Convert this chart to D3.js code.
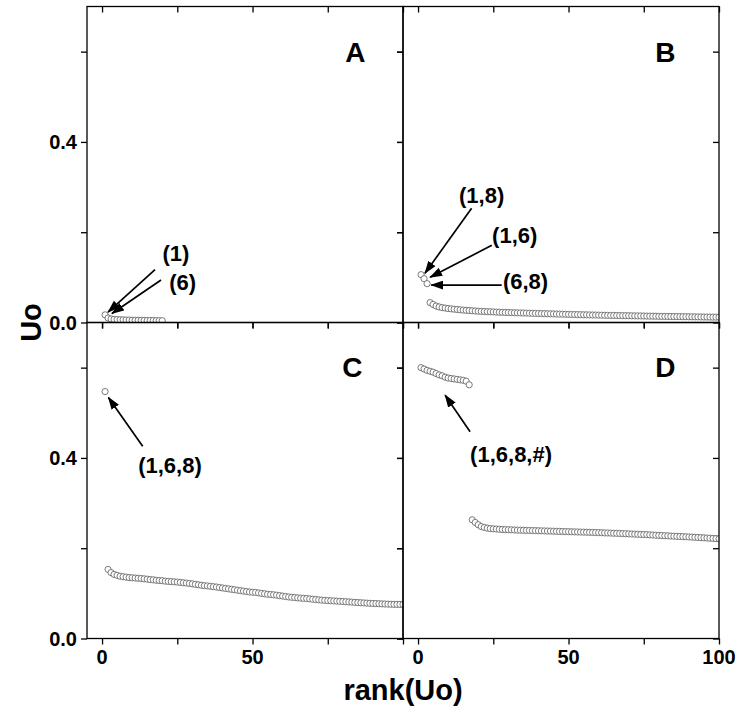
<!DOCTYPE html>
<html>
<head>
<meta charset="utf-8">
<script src="https://cdn.jsdelivr.net/npm/d3@7"></script>
<style>
  html, body { margin: 0; padding: 0; background: #fff; }
  svg { display: block; }
  text { font-family: "Liberation Sans", Arial, sans-serif; font-weight: bold; fill: #000; }
</style>
</head>
<body>
<svg id="chart" width="744" height="713"></svg>
<script>
// ---------------- DATA ----------------
const panelNames = ["A", "B", "C", "D"];
const xTicksMajor = [0, 50, 100];
const xTicksMinor = [25, 75];
const yTicksMajor = [0.0, 0.4];
const yTicksMinor = [0.2, 0.6];
const xTitle = "rank(Uo)";
const yTitle = "Uo";

// Panel A: ranks 1..20
const aStart = 1;
const aValues = [0.017, 0.010, 0.008, 0.007, 0.0065, 0.006, 0.006, 0.0055, 0.0055, 0.005,
                 0.005, 0.005, 0.0048, 0.0047, 0.0045, 0.0045, 0.0044, 0.0042, 0.0041, 0.004];

// Panel B: three labelled pairs at ranks 1..3, then ranks 4..100
const bHeadStart = 1;
const bHeadValues = [0.106, 0.097, 0.086];
const bTailStart = 4;
const bTailValues = [
  0.044, 0.040, 0.0365, 0.0345, 0.033, 0.032, 0.031, 0.0302, 0.0295, 0.0288,
  0.0281, 0.0275, 0.027, 0.0265, 0.026, 0.0255, 0.0251, 0.0247, 0.0243, 0.024,
  0.0237, 0.0234, 0.0231, 0.0228, 0.0225, 0.0222, 0.022, 0.0218, 0.0216, 0.0214,
  0.0212, 0.021, 0.0208, 0.0206, 0.0204, 0.0202, 0.02, 0.0198, 0.0196, 0.0194,
  0.0192, 0.019, 0.0188, 0.0186, 0.0184, 0.0182, 0.018, 0.0178, 0.0176, 0.0175,
  0.0173, 0.0171, 0.017, 0.0168, 0.0166, 0.0165, 0.0163, 0.0162, 0.016, 0.0159,
  0.0157, 0.0156, 0.0155, 0.0153, 0.0152, 0.0151, 0.015, 0.0148, 0.0147, 0.0146,
  0.0145, 0.0144, 0.0142, 0.0141, 0.014, 0.0139, 0.0137, 0.0136, 0.0135, 0.0134,
  0.0133, 0.0132, 0.0131, 0.013, 0.0129, 0.0128, 0.0127, 0.0126, 0.0125, 0.0124,
  0.0123, 0.0122, 0.0121, 0.012, 0.0119, 0.0119, 0.0118];

// Panel C: triple (1,6,8) at rank 1, then ranks 2..100
const cHeadStart = 1;
const cHeadValues = [0.547];
const cTailStart = 2;
const cTailValues = [
  0.153, 0.146, 0.142, 0.140, 0.138, 0.137, 0.136, 0.135, 0.1345, 0.134,
  0.1335, 0.133, 0.1322, 0.1315, 0.1305, 0.13, 0.129, 0.1285, 0.128, 0.127,
  0.1265, 0.126, 0.1255, 0.125, 0.1243, 0.1235, 0.1228, 0.122, 0.121, 0.12,
  0.119, 0.118, 0.117, 0.1165, 0.1157, 0.1148, 0.114, 0.113, 0.112, 0.111,
  0.110, 0.109, 0.108, 0.107, 0.106, 0.105, 0.104, 0.103, 0.1025, 0.102,
  0.101, 0.100, 0.099, 0.098, 0.0975, 0.0968, 0.096, 0.095, 0.094, 0.093,
  0.092, 0.0913, 0.0907, 0.09, 0.0895, 0.089, 0.0885, 0.0878, 0.087, 0.0863,
  0.0856, 0.085, 0.0845, 0.084, 0.0836, 0.0832, 0.0828, 0.0824, 0.082, 0.0815,
  0.081, 0.0806, 0.080, 0.0796, 0.0792, 0.0788, 0.0784, 0.078, 0.0776, 0.0773,
  0.077, 0.0767, 0.0764, 0.0761, 0.0759, 0.0757, 0.0756, 0.0755, 0.0754];

// Panel D: quadruples (1,6,8,#) ranks 1..17, then ranks 18..100
const dHeadStart = 1;
const dHeadValues = [0.600, 0.597, 0.594, 0.592, 0.590, 0.587, 0.584, 0.582, 0.579, 0.577,
                     0.576, 0.575, 0.574, 0.573, 0.572, 0.570, 0.562];
const dTailStart = 18;
const dTailValues = [
  0.263, 0.257, 0.252, 0.248, 0.246, 0.2445, 0.2435, 0.243, 0.2425, 0.242,
  0.2415, 0.2412, 0.241, 0.2407, 0.2404, 0.2401, 0.2399, 0.2397, 0.2395, 0.2393,
  0.2391, 0.2389, 0.2387, 0.2385, 0.2383, 0.2381, 0.2379, 0.2377, 0.2374, 0.2372,
  0.237, 0.2368, 0.2366, 0.2364, 0.2362, 0.236, 0.2358, 0.2356, 0.2354, 0.2352,
  0.235, 0.2348, 0.2345, 0.2343, 0.234, 0.2338, 0.2335, 0.2332, 0.233, 0.2327,
  0.2324, 0.2321, 0.2318, 0.2315, 0.2312, 0.2309, 0.2306, 0.2303, 0.23, 0.2296,
  0.2292, 0.2288, 0.2284, 0.228, 0.2277, 0.2274, 0.227, 0.2267, 0.2263, 0.226,
  0.2256, 0.2253, 0.2249, 0.2246, 0.2242, 0.2238, 0.2234, 0.223, 0.2226, 0.2222,
  0.2218, 0.2214, 0.221];

// Annotations (in data units: rank, Uo)
const annotations = {
  A: [
    {text: "(1)", at: [20.1, 0.136], from: [17.6, 0.117], to: [2.0, 0.023]},
    {text: "(6)", at: [22.3, 0.072], from: [19.6, 0.094], to: [3.3, 0.020]}
  ],
  B: [
    {text: "(1,8)", at: [13.6, 0.265], from: [17.8, 0.253], to: [2.3, 0.109]},
    {text: "(1,6)", at: [24.6, 0.176], from: [24.5, 0.171], to: [4.0, 0.100]},
    {text: "(6,8)", at: [28.2, 0.074], from: [27.8, 0.083], to: [4.4, 0.083]}
  ],
  C: [
    {text: "(1,6,8)", at: [12.0, 0.366], from: [13.5, 0.426], to: [2.1, 0.534]}
  ],
  D: [
    {text: "(1,6,8,#)", at: [17.3, 0.391], from: [17.3, 0.458], to: [9.0, 0.539]}
  ]
};
const letterPos = {A: [87.5, 0.577], B: [85.5, 0.578], C: [86.5, 0.579], D: [85.5, 0.579]};

// ---------------- LAYOUT ----------------
const svg = d3.select("#chart");
const L = 87, M = 403, R = 719, T = 6.5, MY = 322.5, B = 638.5;
const xDomain = [-5, 100], yDomain = [0, 0.7];

const panels = [
  {id: "A", x0: L, x1: M, y0: T, y1: MY, yLab: true, xLab: null,
   series: [{start: aStart, values: aValues}]},
  {id: "B", x0: M, x1: R, y0: T, y1: MY, yLab: false, xLab: null,
   series: [{start: bHeadStart, values: bHeadValues}, {start: bTailStart, values: bTailValues}]},
  {id: "C", x0: L, x1: M, y0: MY, y1: B, yLab: true, xLab: [0, 50],
   series: [{start: cHeadStart, values: cHeadValues}, {start: cTailStart, values: cTailValues}]},
  {id: "D", x0: M, x1: R, y0: MY, y1: B, yLab: false, xLab: [0, 50, 100],
   series: [{start: dHeadStart, values: dHeadValues}, {start: dTailStart, values: dTailValues}]}
];

svg.append("rect").attr("width", 744).attr("height", 713).attr("fill", "#fff");

const defs = svg.append("defs");
defs.append("marker")
  .attr("id", "arrow").attr("viewBox", "0 0 13 9")
  .attr("refX", 12).attr("refY", 4.5)
  .attr("markerWidth", 13).attr("markerHeight", 9)
  .attr("markerUnits", "userSpaceOnUse")
  .attr("orient", "auto")
  .append("path").attr("d", "M0,0 L13,4.5 L0,9 Z").attr("fill", "#000");

const tickLen = 6;
const allX = xTicksMajor.concat(xTicksMinor);
const allY = yTicksMajor.concat(yTicksMinor);

panels.forEach(p => {
  const x = d3.scaleLinear().domain(xDomain).range([p.x0, p.x1]);
  const y = d3.scaleLinear().domain(yDomain).range([p.y1, p.y0]);
  const g = svg.append("g");

  defs.append("clipPath").attr("id", "clip" + p.id)
    .append("rect").attr("x", p.x0).attr("y", p.y0)
    .attr("width", p.x1 - p.x0).attr("height", p.y1 - p.y0);

  const axB = d3.axisBottom(x).tickValues(allX).tickSizeInner(tickLen).tickSizeOuter(0).tickFormat("");
  const axT = d3.axisTop(x).tickValues(allX).tickSizeInner(-tickLen).tickSizeOuter(0).tickFormat("");
  const axLft = d3.axisLeft(y).tickValues(allY).tickSizeInner(tickLen).tickSizeOuter(0).tickFormat("");
  const axRt = d3.axisRight(y).tickValues(allY).tickSizeInner(-tickLen).tickSizeOuter(0).tickFormat("");
  [[axB, `translate(0,${p.y1})`], [axT, `translate(0,${p.y0})`],
   [axLft, `translate(${p.x0},0)`], [axRt, `translate(${p.x1},0)`]].forEach(([ax, tr]) => {
    const a = g.append("g").attr("transform", tr).call(ax);
    a.select(".domain").remove();
    a.selectAll("line").attr("stroke", "#000").attr("stroke-width", 1.3);
  });

  if (p.yLab) {
    g.selectAll(".ylab").data(yTicksMajor).enter().append("text")
      .attr("x", p.x0 - 10).attr("y", d => y(d))
      .attr("dy", "0.36em").attr("text-anchor", "end")
      .style("font-size", "20px")
      .text(d => d3.format(".1f")(d));
  }
  if (p.xLab) {
    g.selectAll(".xlab").data(p.xLab).enter().append("text")
      .attr("x", d => x(d)).attr("y", p.y1 + 25)
      .attr("text-anchor", "middle")
      .style("font-size", "20px")
      .text(d => d3.format("d")(d));
  }

  const pts = g.append("g").attr("clip-path", `url(#clip${p.id})`);
  p.series.forEach(s => {
    pts.selectAll(null).data(s.values.map((v, i) => ({r: s.start + i, v}))).enter()
      .append("circle")
      .attr("cx", d => x(d.r)).attr("cy", d => y(d.v)).attr("r", 3.1)
      .attr("fill", "#fff").attr("stroke", "#5a5a5a").attr("stroke-width", 0.8);
  });

  (annotations[p.id] || []).forEach(a => {
    g.append("line")
      .attr("x1", x(a.from[0])).attr("y1", y(a.from[1]))
      .attr("x2", x(a.to[0])).attr("y2", y(a.to[1]))
      .attr("stroke", "#000").attr("stroke-width", 1.7)
      .attr("marker-end", "url(#arrow)");
    g.append("text")
      .attr("x", x(a.at[0])).attr("y", y(a.at[1]))
      .style("font-size", "22px")
      .text(a.text);
  });

  g.append("text")
    .attr("x", x(letterPos[p.id][0])).attr("y", y(letterPos[p.id][1]))
    .attr("text-anchor", "end")
    .style("font-size", "28px")
    .text(p.id);

  g.append("rect")
    .attr("x", p.x0).attr("y", p.y0)
    .attr("width", p.x1 - p.x0).attr("height", p.y1 - p.y0)
    .attr("fill", "none").attr("stroke", "#000").attr("stroke-width", 1.3);
});

svg.append("text")
  .attr("x", (L + R) / 2).attr("y", 700)
  .attr("text-anchor", "middle")
  .style("font-size", "29px")
  .text(xTitle);

svg.append("text")
  .attr("transform", `translate(41,${MY}) rotate(-90)`)
  .attr("text-anchor", "middle")
  .style("font-size", "29px")
  .text(yTitle);
</script>
</body>
</html>
